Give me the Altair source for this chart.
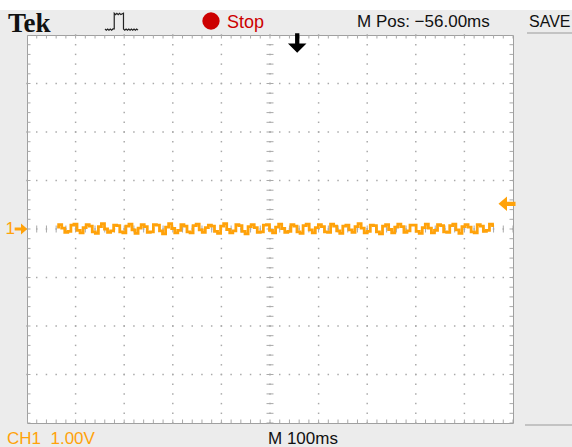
import altair as alt
import numpy as np
import pandas as pd

# ---- CH1 acquisition (hundredths of a volt around the channel 1 ground marker)
ch1_centivolts = [
    4, 9, 2, -7, -5, 8, 10, -3, -8, 3, 9, 6, -6, -9, 5, 11, 0, -7, -4, 8,
    7, -6, -8, 6, 10, -2, -9, 2, 9, 5, -7, -6, 9, 8, -4, -10, 4, 11, 1, -8,
    -3, 9, 6, -6, -8, 7, 10, -2, -7, 3, 8, 6, -5, -9, 6, 11, -1, -8, -4, 9,
    7, -5, -10, 5, 9, 3, -7, -6, 8, 9, -3, -8, 4, 10, 1, -7, -5, 9, 6, -6,
    -9, 7, 10, -2, -8, 3, 9, 5, -6, -7, 10, 6, -4, -9, 6, 8, -2, -7, 5, 11,
    2, -8, -5, 8, 7, -6, -10, 6, 9, -1, -8, 4, 10, 5, -7, -4, 8, 8, -5, -9,
    3, 10, 2, -8, -3, 9, 7, -6, -7, 7, 10, -2, -9, 5, 9, 4, -6, -8, 9, 6,
    -5, -3, 10, 7,
]
trace_start_div = 0.62   # first sample, in horizontal divisions
trace_end_div = 9.61     # last sample

# ---- scope settings
h_divs = 10
v_divs = 8
time_per_div_ms = 100
m_pos_ms = -56.00
trigger_level_v = 0.52

status_top = ["Tek", "Stop", "M Pos: \u221256.00ms", "SAVE"]
status_bottom = ["CH1\u00a0\u00a01.00V", "M 100ms"]

ORANGE = "#ffa20a"
RED = "#cc0000"
GRID = "#a9a9a9"
PANEL = "#ececec"

W, H = 486, 388

xs = alt.Scale(domain=[0, h_divs], nice=False, zero=False)
ys = alt.Scale(domain=[-v_divs / 2, v_divs / 2], nice=False, zero=False)

# trace table
t = np.linspace(trace_start_div, trace_end_div, len(ch1_centivolts))
trace = pd.DataFrame({"t": t, "v": np.array(ch1_centivolts) / 100.0})

# graticule: dotted division lines, 5 minor marks per division
minor_x = np.round(np.arange(0, h_divs + 1e-9, 0.2), 3)
minor_y = np.round(np.arange(-v_divs / 2, v_divs / 2 + 1e-9, 0.2), 3)
dots = pd.DataFrame(
    [(k, yy) for k in range(1, h_divs) for yy in minor_y]
    + [(xx, j) for j in range(-v_divs // 2 + 1, v_divs // 2) for xx in minor_x],
    columns=["x", "y"],
)
dot_layer = alt.Chart(dots).mark_square(size=2.2, color=GRID, opacity=1).encode(
    x=alt.X("x:Q", scale=xs, axis=None), y=alt.Y("y:Q", scale=ys, axis=None)
)

# minor ticks on the centre cross and on the frame
vtick_rows = pd.DataFrame(
    [(xx, 0.0) for xx in minor_x]
    + [(xx, v_divs / 2) for xx in minor_x]
    + [(xx, -v_divs / 2) for xx in minor_x],
    columns=["x", "y"],
)
htick_rows = pd.DataFrame(
    [(h_divs / 2, yy) for yy in minor_y]
    + [(0.0, yy) for yy in minor_y]
    + [(float(h_divs), yy) for yy in minor_y],
    columns=["x", "y"],
)
vticks = alt.Chart(vtick_rows).mark_tick(
    orient="vertical", size=7, thickness=1, color=GRID, opacity=1, clip=True
).encode(x=alt.X("x:Q", scale=xs, axis=None), y=alt.Y("y:Q", scale=ys, axis=None))
hticks = alt.Chart(htick_rows).mark_tick(
    orient="horizontal", size=7, thickness=1, color=GRID, opacity=1, clip=True
).encode(x=alt.X("x:Q", scale=xs, axis=None), y=alt.Y("y:Q", scale=ys, axis=None))

# the sampled trace is drawn as held samples, as the scope display does
wave = alt.Chart(trace).mark_line(
    color=ORANGE, strokeWidth=2.8, interpolate="step", strokeJoin="miter"
).encode(
    x=alt.X("t:Q", scale=xs, axis=None),
    y=alt.Y("v:Q", scale=ys, axis=None),
)

one = pd.DataFrame({"k": [0]})

# trigger position arrow (top) and trigger level arrow (right)
trig_pos = pd.DataFrame({"x": [h_divs / 2 - m_pos_ms / time_per_div_ms]})
down_arrow = "M-0.22,-1 L0.22,-1 L0.22,0.05 L0.95,0.05 L0,1 L-0.95,0.05 L-0.22,0.05 Z"
trig_arrow = alt.Chart(trig_pos).mark_point(
    shape=down_arrow, size=380, filled=True, color="black", opacity=1
).encode(x=alt.X("x:Q", scale=xs, axis=None), y=alt.value(8))

left_arrow = "M-1,0 L0,-0.85 L0,-0.25 L1,-0.25 L1,0.25 L0,0.25 L0,0.85 Z"
level = pd.DataFrame({"v": [trigger_level_v]})
level_arrow = alt.Chart(level).mark_point(
    shape=left_arrow, size=290, filled=True, color=ORANGE, opacity=1
).encode(x=alt.value(W - 6), y=alt.Y("v:Q", scale=ys, axis=None))

right_arrow = "M1,0 L0,-0.85 L0,-0.25 L-1,-0.25 L-1,0.25 L0,0.25 L0,0.85 Z"
gnd = pd.DataFrame({"v": [0.0]})
gnd_arrow = alt.Chart(gnd).mark_point(
    shape=right_arrow, size=160, filled=True, color=ORANGE, opacity=1
).encode(x=alt.value(-6), y=alt.Y("v:Q", scale=ys, axis=None))
gnd_label = alt.Chart(gnd).mark_text(
    text="1", font="Liberation Sans", fontSize=17, color=ORANGE, align="right", baseline="middle"
).encode(x=alt.value(-12), y=alt.Y("v:Q", scale=ys, axis=None))

# top status bar
white_strip = alt.Chart(one).mark_rect(color="white").encode(
    x=alt.value(-27), x2=alt.value(545), y=alt.value(-35), y2=alt.value(-25)
)
tek = alt.Chart(one).mark_text(
    text=status_top[0], font="Liberation Serif", fontWeight="bold", fontSize=27,
    color="#111111", align="left", baseline="alphabetic",
).encode(x=alt.value(-19), y=alt.value(-3))

pulse_path = (
    "M-1,0.45 L-0.92,0.52 L-0.84,0.45 L-0.76,0.52 L-0.68,0.45 L-0.6,0.52 L-0.52,0.45 "
    "L-0.44,0.45 L-0.44,-0.5 L-0.36,-0.42 L-0.28,-0.5 L-0.2,-0.42 L-0.12,-0.5 L-0.04,-0.42 "
    "L0.12,-0.5 L0.12,0.45 L0.2,0.52 L0.28,0.45 L0.36,0.52 L0.44,0.45 L0.52,0.52 "
    "L0.6,0.45 L0.68,0.52 L0.76,0.45 L0.84,0.52 L0.92,0.45 L1,0.52"
)
pulse = alt.Chart(one).mark_point(
    shape=pulse_path, size=33 * 33, filled=False, color="#222222", strokeWidth=1.2, opacity=1
).encode(x=alt.value(94.5), y=alt.value(-13.5))

stop_dot = alt.Chart(one).mark_point(
    shape="circle", size=300, filled=True, color=RED, opacity=1
).encode(x=alt.value(184), y=alt.value(-14))
stop_txt = alt.Chart(one).mark_text(
    text=status_top[1], font="Liberation Sans", fontSize=18, color=RED,
    align="left", baseline="alphabetic",
).encode(x=alt.value(200), y=alt.value(-7))
mpos_txt = alt.Chart(one).mark_text(
    text=status_top[2], font="Liberation Sans", fontSize=17, color="#111111",
    align="left", baseline="alphabetic",
).encode(x=alt.value(330), y=alt.value(-8))
save_txt = alt.Chart(one).mark_text(
    text=status_top[3], font="Liberation Sans", fontSize=16, color="#111111",
    align="left", baseline="alphabetic",
).encode(x=alt.value(502), y=alt.value(-8))
save_rule = alt.Chart(one).mark_rule(color="#9a9a9a", strokeWidth=1).encode(
    x=alt.value(500), x2=alt.value(545), y=alt.value(-2)
)
menu_rule = alt.Chart(one).mark_rule(color="#9a9a9a", strokeWidth=1).encode(
    x=alt.value(498), x2=alt.value(545), y=alt.value(390)
)

# bottom status bar
ch1_txt = alt.Chart(one).mark_text(
    text=status_bottom[0], font="Liberation Sans", fontSize=17, color=ORANGE,
    align="left", baseline="alphabetic",
).encode(x=alt.value(-20), y=alt.value(409))
mtime_txt = alt.Chart(one).mark_text(
    text=status_bottom[1], font="Liberation Sans", fontSize=17, color="#111111",
    align="left", baseline="alphabetic",
).encode(x=alt.value(241), y=alt.value(409))

chart = alt.layer(
    white_strip, dot_layer, vticks, hticks, wave, trig_arrow, level_arrow,
    gnd_arrow, gnd_label, tek, pulse, stop_dot, stop_txt, mpos_txt, save_txt,
    save_rule, menu_rule, ch1_txt, mtime_txt,
).properties(
    width=W, height=H,
    autosize=alt.AutoSizeParams(type="none"),
    padding={"left": 27, "top": 35, "right": 59, "bottom": 24},
    background=PANEL,
).configure_view(fill="white", stroke="#a0a0a0", strokeWidth=1)

chart.save("out.html", embed_options={"renderer": "svg", "actions": False})
